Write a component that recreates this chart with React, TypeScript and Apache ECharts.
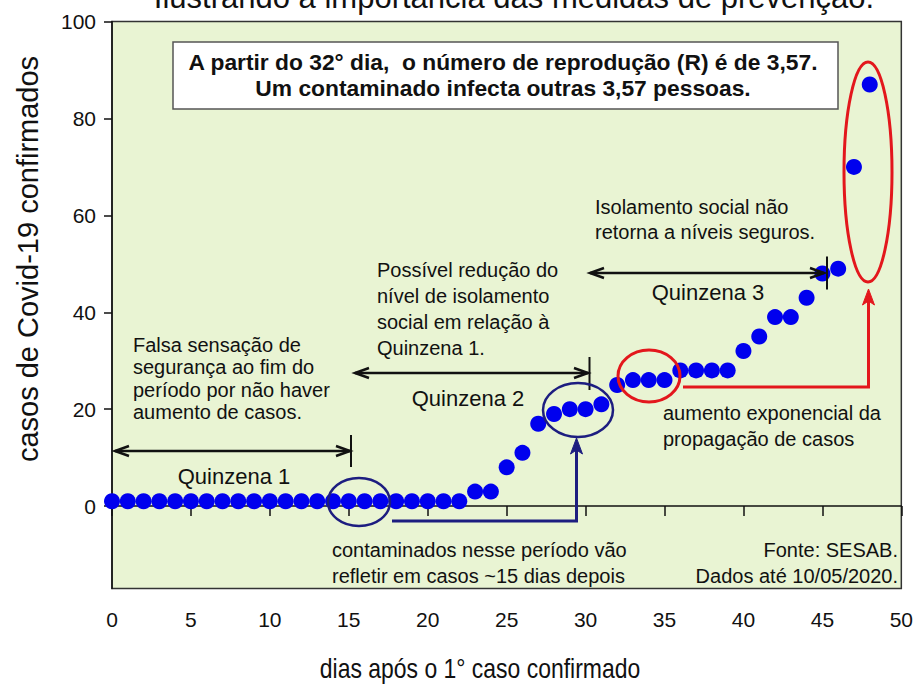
import React, { useEffect, useRef } from "react";
import * as echarts from "echarts";

const days = [
  0, 1, 2, 3, 4, 5, 6, 7, 8, 9, 10, 11, 12, 13, 14, 15, 16, 17, 18, 19, 20, 21, 22, 23, 24,
  25, 26, 27, 28, 29, 30, 31, 32, 33, 34, 35, 36, 37, 38, 39, 40, 41, 42, 43, 44, 45, 46, 47, 48,
];
const cases = [
  1, 1, 1, 1, 1, 1, 1, 1, 1, 1, 1, 1, 1, 1, 1, 1, 1, 1, 1, 1, 1, 1, 1, 3, 3,
  8, 11, 17, 19, 20, 20, 21, 25, 26, 26, 26, 28, 28, 28, 28, 32, 35, 39, 39, 43, 48, 49, 70, 87,
];
const yTickValues = [0, 20, 40, 60, 80, 100];

const FONT = "'Liberation Sans', Arial, sans-serif";
const NAVY = "#1d1d80";
const RED = "#e3171c";

function txt(text: string, x: number, y: number, opts: any = {}) {
  return {
    type: "text",
    z: 20,
    x,
    y,
    rotation: opts.rotation || 0,
    scaleX: opts.scaleX || 1,
    style: {
      text,
      fill: "#111",
      fontSize: opts.fontSize || 20,
      fontWeight: opts.fontWeight || "normal",
      fontFamily: FONT,
      align: opts.align || "left",
      verticalAlign: opts.verticalAlign || "top",
      lineHeight: opts.lineHeight || 24,
    },
  };
}

function line(points: number[][], color: string, width: number) {
  return {
    type: "polyline",
    z: 15,
    shape: { points },
    style: { stroke: color, lineWidth: width, fill: "none" },
  };
}

function dblArrow(x1: number, x2: number, y: number, barX: number, barY1: number, barY2: number) {
  return [
    line([[x1, y], [x2, y]], "#111", 2.5),
    line([[x1 + 14, y - 5], [x1, y], [x1 + 14, y + 5]], "#111", 2.5),
    line([[x2 - 14, y - 5], [x2, y], [x2 - 14, y + 5]], "#111", 2.5),
    line([[barX, barY1], [barX, barY2]], "#111", 2),
  ];
}

function ellipse(cx: number, cy: number, rx: number, ry: number, color: string, w: number) {
  return {
    type: "ellipse",
    z: 15,
    shape: { cx, cy, rx, ry },
    style: { fill: "none", stroke: color, lineWidth: w },
  };
}

function upHead(x: number, tip: number, color: string) {
  return {
    type: "polygon",
    z: 16,
    shape: { points: [[x, tip], [x - 6, tip + 16], [x, tip + 12], [x + 6, tip + 16]] },
    style: { fill: color, stroke: color, lineWidth: 1 },
  };
}

export default function App() {
  const ref = useRef<HTMLDivElement>(null);
  useEffect(() => {
    if (!ref.current) return;
    const chart = echarts.init(ref.current, undefined, { renderer: "svg" });
    const graphic: any[] = [
      txt("Ilustrando a importância das medidas de prevenção.", 514, 13, {
        fontSize: 31,
        align: "center",
        verticalAlign: "bottom",
        lineHeight: 31,
      }),
      {
        type: "rect",
        z: 12,
        shape: { x: 173, y: 42, width: 665, height: 67 },
        style: { fill: "#ffffff", stroke: "#555", lineWidth: 1.5 },
      },
      txt(
        "A partir do 32° dia,  o número de reprodução (R) é de 3,57.\nUm contaminado infecta outras 3,57 pessoas.",
        503,
        49,
        { fontSize: 22.8, fontWeight: "bold", align: "center", lineHeight: 26 }
      ),
      txt("Falsa sensação de\nsegurança ao fim do\nperíodo por não haver\naumento de casos.", 133, 334, {
        lineHeight: 22.3,
      }),
      txt("Possível redução do\nnível de isolamento\nsocial em relação à\nQuinzena 1.", 377, 257, {
        lineHeight: 26,
      }),
      txt("Isolamento social não\nretorna a níveis seguros.", 595, 194.5, { lineHeight: 25 }),
      txt("aumento exponencial da\npropagação de casos", 663, 400, { lineHeight: 26 }),
      txt("contaminados nesse período vão\nrefletir em casos ~15 dias depois", 332, 537, {
        lineHeight: 26,
      }),
      txt("Fonte: SESAB.\nDados até 10/05/2020.", 898, 537, { lineHeight: 26, align: "right" }),
      txt("Quinzena 1", 234, 476, { fontSize: 22, align: "center", verticalAlign: "middle" }),
      txt("Quinzena 2", 468, 398, { fontSize: 22, align: "center", verticalAlign: "middle" }),
      txt("Quinzena 3", 708, 292, { fontSize: 22, align: "center", verticalAlign: "middle" }),
      ...dblArrow(115, 350, 451, 351, 435, 467),
      ...dblArrow(355, 588, 373, 589.5, 357, 390),
      ...dblArrow(590, 824, 273, 827, 256.5, 289.5),
      ellipse(359, 502, 31, 24, NAVY, 2.5),
      ellipse(578, 410, 35, 27, NAVY, 2.5),
      line([[392, 521], [576.5, 521], [576.5, 448]], NAVY, 3),
      upHead(576.5, 438, NAVY),
      ellipse(649, 376, 31, 26, RED, 3),
      ellipse(868, 172, 24, 110, RED, 3),
      line([[683, 387], [868.5, 387], [868.5, 300]], RED, 3),
      upHead(868.5, 289, RED),
      txt("casos de Covid-19 confirmados", 28, 259, {
        fontSize: 29,
        align: "center",
        verticalAlign: "middle",
        rotation: Math.PI / 2,
      }),
      txt("dias após o 1° caso confirmado", 480, 668, {
        fontSize: 28,
        scaleX: 0.82,
        align: "center",
        verticalAlign: "middle",
      }),
    ];
    chart.setOption({
      animation: false,
      grid: {
        left: 112,
        right: 9,
        top: 21.5,
        bottom: 95.5,
        show: true,
        backgroundColor: "#e9f4d3",
        borderColor: "#333",
        borderWidth: 1.5,
      },
      xAxis: {
        type: "value",
        min: 0,
        max: 50,
        interval: 5,
        axisLine: { show: true, lineStyle: { color: "#111", width: 1.5 } },
        axisTick: { show: true, inside: false, length: 10, lineStyle: { color: "#111", width: 1.5 } },
        axisLabel: { color: "#111", fontSize: 21, fontFamily: FONT, margin: 20 },
        splitLine: { show: false },
      },
      yAxis: {
        type: "value",
        min: -17,
        max: 100,
        axisLine: { show: true, lineStyle: { color: "#111", width: 1.5 } },
        axisTick: {
          show: true,
          inside: false,
          length: 8,
          customValues: yTickValues,
          lineStyle: { color: "#111", width: 1.5 },
        },
        axisLabel: {
          color: "#111",
          fontSize: 21,
          fontFamily: FONT,
          margin: 16,
          customValues: yTickValues,
        },
        splitLine: { show: false },
      },
      series: [
        {
          type: "scatter",
          data: days.map((d, i) => [d, cases[i]]),
          symbol: "circle",
          symbolSize: 16,
          itemStyle: { color: "#0000ee", opacity: 1 },
          z: 5,
        },
      ],
      graphic,
    });
    return () => chart.dispose();
  }, []);
  return (
    <div
      ref={ref}
      style={{ position: "fixed", left: 0, top: 0, width: 916, height: 684, background: "#fff" }}
    />
  );
}
